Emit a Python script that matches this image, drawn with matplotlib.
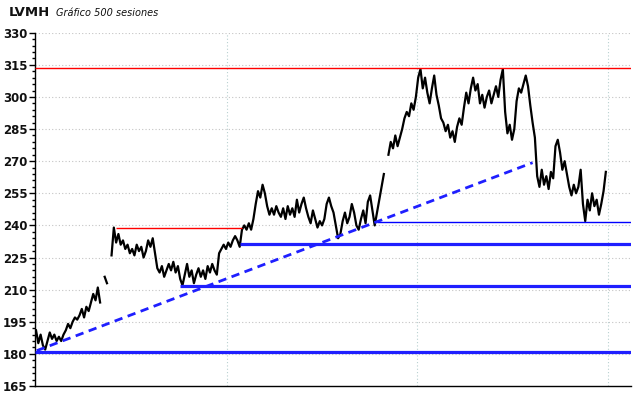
import numpy as np
import matplotlib
matplotlib.use("Agg")
import matplotlib.pyplot as plt
from matplotlib.ticker import MultipleLocator

nan = np.nan
# closing prices, one every 2 sessions (500 sessions)
closes = [
    191, 185, 189, 184, 182, 186, 190, 187, 189, 186,
    188, 186, 189, 191, 194, 192, 195, 197, 196, 198,
    201, 197, 202, 200, 204, 208, 205, 211, 204, nan,
    216, 213, nan, 226, 239, 232, 236, 231, 233, 229,
    231, 227, 229, 226, 231, 228, 230, 225, 228, 233,
    230, 234, 227, 220, 218, 221, 216, 219, 222, 219,
    223, 218, 221, 215, 212, 217, 222, 216, 219, 213,
    217, 220, 216, 219, 215, 221, 218, 222, 219, 217,
    227, 229, 231, 229, 232, 230, 233, 235, 233, 230,
    238, 240, 238, 241, 238, 243, 250, 256, 253, 259,
    255, 249, 245, 248, 245, 249, 246, 244, 248, 243,
    249, 245, 248, 244, 252, 246, 250, 253, 248, 244,
    241, 247, 243, 239, 242, 240, 243, 250, 253, 249,
    246, 240, 234, 236, 242, 246, 241, 244, 250, 246,
    240, 238, 243, 247, 241, 251, 254, 247, 240, 246,
    252, 258, 264, nan, 273, 279, 276, 282, 277, 281,
    285, 290, 293, 291, 297, 294, 300, 309, 313, 304,
    309, 302, 297, 304, 310, 301, 296, 290, 288, 284,
    287, 281, 284, 279, 286, 290, 287, 295, 302, 297,
    304, 309, 303, 306, 297, 301, 295, 300, 303, 297,
    301, 305, 300, 308, 313, 293, 283, 287, 280, 285,
    298, 304, 302, 306, 310, 305, 296, 288, 281, 263,
    258, 266, 259, 263, 257, 265, 262, 277, 280, 274,
    266, 270, 264, 258, 254, 259, 255, 258, 266, 250,
    242, 252, 247, 255, 249, 252, 245, 250, 256, 265,
]
step = 2

# horizontal levels: (value, start session, end session or None, colour, width)
level_values = [313.4, 238.7, 231.3, 211.5, 241.4, 181.0]
level_starts = [None, 69.7, 178.3, 125.9, 297.8, None]
level_ends = [None, 179.8, None, None, None, None]
level_colors = ["#ff0000", "#ff0000", "#1f1fff", "#1f1fff", "#0000ff", "#1f1fff"]
level_widths = [1.0, 1.0, 2.3, 2.3, 1.0, 2.3]

# dashed trend line (session, value)
trend_sessions = [0.6, 434]
trend_values = [181.5, 269.3]

vgrid_sessions = [167, 333, 500]

fig = plt.figure(figsize=(6.4, 3.98), dpi=100)
ax = fig.add_axes([35 / 640, 12 / 398, (631 - 35) / 640, (386 - 32.7) / 398])
ax.set_xlim(-0.9, 520)
ax.set_ylim(165, 330)

ax.yaxis.set_major_locator(MultipleLocator(15))
ax.yaxis.set_minor_locator(MultipleLocator(3))
for v in np.arange(180, 331, 15):
    ax.axhline(v, color="#c4c4c4", lw=0.8, ls=(0, (1, 2)), zorder=0)
for s in vgrid_sessions:
    ax.axvline(s, color="#b8d0d0", lw=0.8, ls=(0, (1, 2)), zorder=0)

xs = np.arange(len(closes)) * step
ax.plot(xs, closes, color="black", lw=1.6, zorder=3)

xmax = ax.get_xlim()[1]
xmin = ax.get_xlim()[0]
for v, a, b, c, w in zip(level_values, level_starts, level_ends, level_colors, level_widths):
    a = xmin if a is None else a
    b = xmax if b is None else b
    ax.plot([a, b], [v, v], color=c, lw=w, solid_capstyle="butt", zorder=4)

ax.plot(trend_sessions, trend_values, color="#1f1fff", lw=2.0, ls=(0, (3, 2)), zorder=5)

for sp in ["top", "right"]:
    ax.spines[sp].set_visible(False)
ax.spines["left"].set_linewidth(1.0)
ax.spines["bottom"].set_linewidth(1.0)
ax.set_xticks([])
ax.tick_params(axis="y", which="major", length=4, width=1, pad=1.5,
               labelsize=8.5, labelcolor="#111111")
ax.tick_params(axis="y", which="minor", length=2.5, width=1)
for lab in ax.get_yticklabels():
    lab.set_fontweight("bold")
    lab.set_family("DejaVu Sans")

fig.text(9 / 640, 1 - 12 / 398, "LVMH", fontsize=9.5, fontweight="bold",
         va="center", ha="left", color="#111111")
fig.text(56 / 640, 1 - 12.5 / 398, "Gráfico 500 sesiones", fontsize=7,
         style="italic", va="center", ha="left", color="#111111")

fig.savefig("out.png", dpi=100)
